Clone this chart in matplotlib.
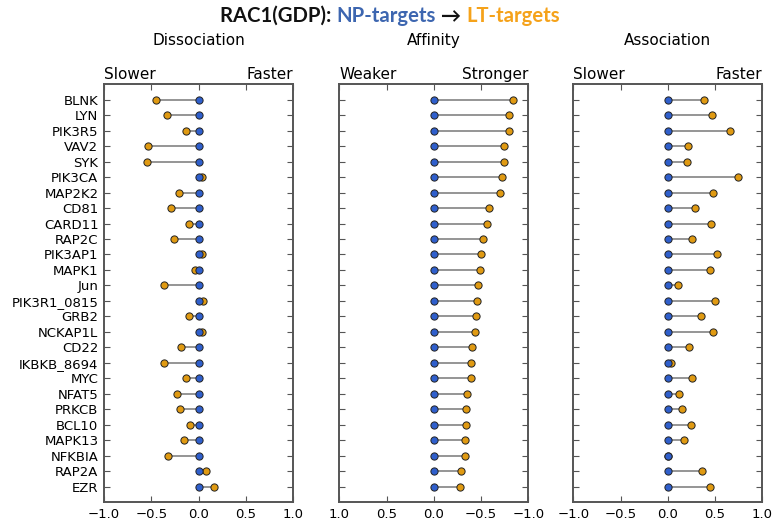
import numpy as np
import matplotlib
matplotlib.use("Agg")
import matplotlib.pyplot as plt
from matplotlib.offsetbox import TextArea, HPacker, AnnotationBbox

# Targets, top to bottom
targets = ["BLNK", "LYN", "PIK3R5", "VAV2", "SYK", "PIK3CA", "MAP2K2", "CD81",
           "CARD11", "RAP2C", "PIK3AP1", "MAPK1", "Jun", "PIK3R1_0815", "GRB2",
           "NCKAP1L", "CD22", "IKBKB_8694", "MYC", "NFAT5", "PRKCB", "BCL10",
           "MAPK13", "NFKBIA", "RAP2A", "EZR"]

# NP-targets are the reference (zero) in every panel
np_dissociation = [0.0] * len(targets)
np_affinity = [0.0] * len(targets)
np_association = [0.0] * len(targets)

# LT-targets relative to NP-targets
lt_dissociation = [-0.45, -0.33, -0.13, -0.53, -0.54, 0.035, -0.21, -0.29,
                   -0.10, -0.26, 0.04, -0.04, -0.36, 0.05, -0.10, 0.04,
                   -0.18, -0.36, -0.13, -0.23, -0.20, -0.09, -0.15, -0.32,
                   0.08, 0.16]
lt_affinity = [-0.84, -0.80, -0.80, -0.745, -0.745, -0.72, -0.70, -0.58,
               -0.56, -0.52, -0.495, -0.49, -0.465, -0.46, -0.445, -0.44,
               -0.40, -0.39, -0.39, -0.355, -0.34, -0.34, -0.33, -0.325,
               -0.29, -0.28]
lt_association = [0.38, 0.465, 0.655, 0.21, 0.20, 0.745, 0.48, 0.29,
                  0.46, 0.26, 0.525, 0.445, 0.11, 0.50, 0.35, 0.475,
                  0.22, 0.03, 0.26, 0.12, 0.145, 0.25, 0.17, 0.0,
                  0.365, 0.445]

panels = [
    ("Dissociation", "Slower", "Faster", np_dissociation, lt_dissociation, False),
    ("Affinity", "Weaker", "Stronger", np_affinity, lt_affinity, True),
    ("Association", "Slower", "Faster", np_association, lt_association, False),
]
xticks = [-1.0, -0.5, 0.0, 0.5, 1.0]

BLUE = "#2f5fcc"
ORANGE = "#e09a12"
SPINE = "#555555"

W, H = 777, 522
fig = plt.figure(figsize=(W / 100, H / 100), dpi=100)

lefts = [104 / W, 339.3 / W, 573.3 / W]
width = 189 / W
bottom = 20 / H
height = 417.7 / H

y = np.arange(len(targets))
for i, (title, lo_lbl, hi_lbl, base, lt, flip) in enumerate(panels):
    ax = fig.add_axes([lefts[i], bottom, width, height])
    ax.hlines(y, base, lt, color="#8c8c8c", lw=1.3, zorder=1)
    ax.plot(lt, y, "o", ms=5.2, mfc=ORANGE, mec="#222222", mew=0.7, zorder=2)
    ax.plot(base, y, "o", ms=5.2, mfc=BLUE, mec="#222222", mew=0.7, zorder=3)
    ax.set_ylim(len(targets), -1)
    if flip:
        ax.set_xlim(1.0, -1.0)
    else:
        ax.set_xlim(-1.0, 1.0)
    ax.set_xticks(xticks)
    ax.set_xticklabels([f"{v:.1f}".replace("-", "\u2212") for v in xticks])
    ax.set_yticks(y)
    if i == 0:
        ax.set_yticklabels(targets)
    else:
        ax.set_yticklabels([])
    ax.tick_params(direction="in", top=True, right=True, length=4,
                   width=0.8, color="#555555", labelsize=9.5, pad=4)
    for s in ax.spines.values():
        s.set_color(SPINE)
        s.set_linewidth(1.4)
    ax.set_title(title, fontsize=11, pad=28)
    ax.text(0.0, 1.006, lo_lbl, transform=ax.transAxes, ha="left",
            va="bottom", fontsize=11)
    ax.text(1.0, 1.006, hi_lbl, transform=ax.transAxes, ha="right",
            va="bottom", fontsize=11)

# Multi-coloured heading
tp = dict(fontsize=14.6, fontweight="bold", family=["Lato", "DejaVu Sans"])
parts = [("RAC1(GDP): ", "#111111"), ("NP-targets", "#3d66b0"),
         (" \u2192 ", "#111111"), ("LT-targets", "#f5a21a")]
boxes = [TextArea(t, textprops=dict(color=c, **tp)) for t, c in parts]
pack = HPacker(children=boxes, align="baseline", pad=0, sep=0)
ab = AnnotationBbox(pack, (390 / W, 1 - 16 / H), xycoords="figure fraction",
                    frameon=False, box_alignment=(0.5, 0.5))
fig.add_artist(ab)

fig.savefig("out.png", dpi=100)
